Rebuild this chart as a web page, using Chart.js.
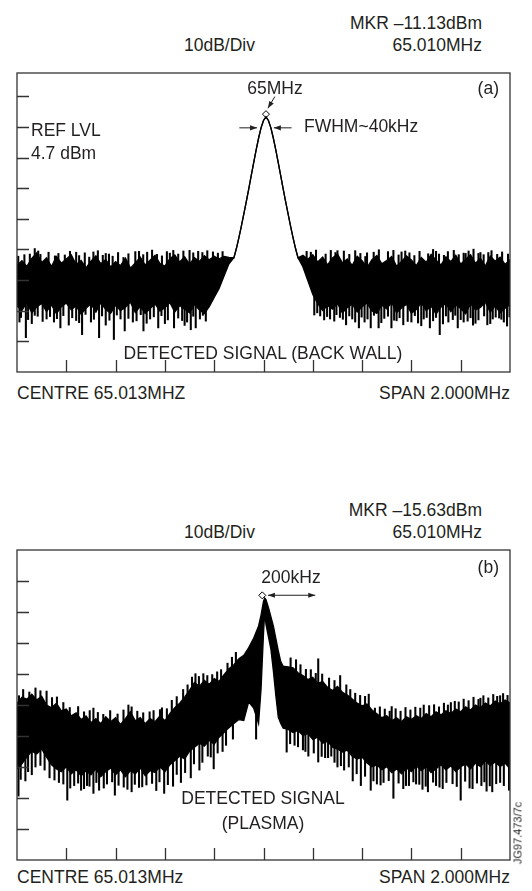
<!DOCTYPE html>
<html>
<head>
<meta charset="utf-8">
<title>Detected signal spectra</title>
<script src="https://cdn.jsdelivr.net/npm/chart.js@4.4.1/dist/chart.umd.min.js"></script>
<style>
  body { margin: 0; background: #fff; }
  #page { position: relative; width: 532px; height: 891px; overflow: hidden;
          font-family: "Liberation Sans", Arial, sans-serif; color: #231f20; }
  canvas { position: absolute; }
  .t { position: absolute; font-size: 17.5px; line-height: 17px; white-space: nowrap; }
  .c { transform: translateX(-50%); }
  .code { font-size: 11px; line-height: 11px; transform: translate(-50%, -50%) rotate(-90deg); }
</style>
</head>
<body>
<div id="page">
  <canvas id="chartA" width="503" height="309" style="left:12px;top:68px"></canvas>
  <canvas id="chartB" width="503" height="320" style="left:12px;top:545px"></canvas>

  <!-- (a) back wall -->
  <div class="t" style="right:50px;top:15px">MKR –11.13dBm</div>
  <div class="t" style="left:184px;top:37px">10dB/Div</div>
  <div class="t" style="right:50px;top:37px">65.010MHz</div>
  <div class="t c" style="left:275px;top:80px">65MHz</div>
  <div class="t" style="right:33px;top:80px">(a)</div>
  <div class="t" style="left:31px;top:122px">REF LVL</div>
  <div class="t" style="left:31px;top:145px">4.7 dBm</div>
  <div class="t" style="left:304px;top:118px">FWHM~40kHz</div>
  <div class="t c" style="left:263px;top:345px">DETECTED SIGNAL (BACK WALL)</div>
  <div class="t" style="left:17px;top:385px">CENTRE 65.013MHZ</div>
  <div class="t" style="right:22px;top:385px">SPAN 2.000MHz</div>

  <!-- (b) plasma -->
  <div class="t" style="right:50px;top:502px">MKR –15.63dBm</div>
  <div class="t" style="left:184px;top:524px">10dB/Div</div>
  <div class="t" style="right:50px;top:524px">65.010MHz</div>
  <div class="t" style="right:33px;top:559px">(b)</div>
  <div class="t c" style="left:291px;top:569px">200kHz</div>
  <div class="t c" style="left:263px;top:790px">DETECTED SIGNAL</div>
  <div class="t c" style="left:263px;top:815px">(PLASMA)</div>
  <div class="t" style="left:17px;top:869px">CENTRE 65.013MHz</div>
  <div class="t" style="right:22px;top:869px">SPAN 2.000MHz</div>
  <div class="t code" style="left:518px;top:833px">JG97.473/7c</div>
</div>

<script>
// frequency offset from the 65.013MHz centre, kHz (span 2MHz, 10 divisions)
var xDivKHz = [-800, -600, -400, -200, 0, 200, 400, 600, 800];

// ---- panel (a): back wall, dBm ----
var yDivA = [-85.3, -75.3, -65.3, -55.3, -45.3, -35.3, -25.3, -15.3, -5.3];

var freqA = [
  -1000, -980, -960, -940, -920, -900, -880, -860, -840, -820,
  -800, -780, -760, -740, -720, -700, -680, -660, -640, -620,
  -600, -580, -560, -540, -520, -500, -480, -460, -440, -420,
  -400, -380, -360, -340, -320, -300, -280, -260, -240, -220,
  -200, -180, -160, -140,
  -120, -110, -100, -90, -80, -70, -60, -50, -40, -30, -20, -10, 0,
  10, 20, 30, 40, 50, 60, 70, 80, 90, 100, 110, 120, 130, 140,
  160, 180, 200, 220, 240, 260, 280, 300, 320, 340,
  360, 380, 400, 420, 440, 460, 480, 500, 520, 540,
  560, 580, 600, 620, 640, 660, 680, 700, 720, 740,
  760, 780, 800, 820, 840, 860, 880, 900, 920, 940,
  960, 980, 1000
];
// upper edge of the trace
var hiA = [
  -60.5, -59.0, -60.8, -58.2, -56.4, -59.6, -58.0, -60.9, -57.6, -59.8,
  -58.4, -57.0, -60.2, -58.9, -61.3, -59.1, -57.4, -60.0, -58.6, -61.0,
  -59.3, -60.6, -58.1, -61.4, -59.7, -57.8, -60.4, -58.8, -57.2, -59.9,
  -60.7, -58.3, -57.1, -59.4, -57.7, -60.1, -58.0, -59.2, -57.3, -58.7,
  -57.5, -58.4, -57.6, -57.9,
  -58.0, -55.0, -51.5, -47.8, -43.8, -39.8, -35.6, -31.3, -27.0, -22.9, -19.0, -15.6, -13.2,
  -12.0, -13.2, -15.6, -19.0, -22.9, -27.0, -31.3, -35.6, -39.8, -43.8, -47.8, -51.5, -55.0, -58.0,
  -57.2, -58.5, -57.0, -59.4, -57.8, -60.3, -58.1, -56.8, -59.7, -58.4,
  -60.5, -57.5, -59.0, -61.2, -58.6, -57.3, -60.0, -58.9, -57.6, -60.8,
  -59.2, -57.4, -58.7, -60.6, -57.9, -59.5, -56.9, -58.8, -60.4, -57.7,
  -59.3, -57.2, -60.1, -58.5, -57.0, -59.8, -58.2, -60.7, -57.5, -59.1,
  -57.8, -60.2, -58.6
];
// lower edge of the trace
var loA = [
  -73.8, -75.2, -72.6, -76.0, -74.1, -72.9, -75.6, -73.4, -76.3, -74.0,
  -72.8, -75.0, -73.7, -76.4, -74.5, -73.0, -75.8, -72.7, -74.9, -76.1,
  -73.5, -75.3, -74.2, -72.5, -75.9, -73.9, -76.2, -74.6, -73.1, -75.4,
  -74.3, -72.6, -75.7, -73.6, -74.8, -76.0, -73.3, -75.1, -76.2, -74.0,
  -71.0, -68.0, -64.0, -60.0,
  -58.0, -55.0, -51.5, -47.8, -43.8, -39.8, -35.6, -31.3, -27.0, -22.9, -19.0, -15.6, -13.2,
  -12.0, -13.2, -15.6, -19.0, -22.9, -27.0, -31.3, -35.6, -39.8, -43.8, -47.8, -51.5, -55.0, -58.0,
  -61.0, -65.5, -70.0, -73.0, -75.2, -73.6, -74.8, -72.9, -76.0, -74.3,
  -73.1, -75.7, -74.0, -72.8, -75.4, -76.2, -73.5, -74.7, -72.6, -75.9,
  -74.4, -73.2, -76.1, -74.9, -72.7, -75.3, -73.8, -76.4, -74.1, -72.9,
  -75.6, -73.4, -74.6, -76.3, -73.0, -75.0, -74.2, -72.5, -75.8, -73.7,
  -76.0, -74.5, -73.3
];
// single samples dropping below the band
var downKHzA = [
  -990, -984, -964, -955, -940, -928, -916, -896, -880, -866,
  -850, -838, -824, -812, -790, -776, -760, -748, -736, -722,
  -700, -688, -667, -655, -640, -625, -607, -595, -580, -563,
  -548, -530, -515, -498, -487, -474, -460, -445, -427, -414,
  -400, -388, -363, -346, -330, -320, -310, -295, -285, -275,
  -258, -246, -234,
  206, 218, 230, 246, 258, 270, 287, 296, 310, 322,
  335, 348, 360, 372, 387, 398, 410, 422, 435, 448,
  467, 478, 490, 505, 519, 530, 540, 552, 567, 585,
  600, 614, 627, 640, 650, 662, 675, 688, 700, 715,
  728, 740, 750, 768, 778, 788, 800, 812, 828, 840,
  850, 860, 872, 895, 908, 920, 930, 942, 956, 965,
  975, 988, 998
];
var downTipA = [
  -79.0, -77.5, -84.1, -78.2, -79.5, -76.8, -77.1, -78.8, -78.0, -77.2,
  -79.0, -77.9, -80.9, -76.9, -80.0, -77.6, -78.5, -79.2, -83.1, -76.5,
  -79.0, -78.1, -84.1, -77.0, -80.0, -78.4, -84.7, -76.7, -78.0, -81.9,
  -77.8, -79.0, -78.6, -76.6, -81.9, -79.4, -78.0, -77.3, -80.9, -76.9,
  -79.5, -78.3, -80.9, -77.7, -78.5, -80.1, -79.0, -81.5, -77.1, -80.9,
  -78.0, -76.8, -78.7,
  -76.7, -76.0, -77.0, -78.3, -77.2, -78.0, -78.7, -76.6, -77.5, -78.1,
  -79.9, -77.0, -78.0, -79.0, -80.9, -77.4, -79.0, -78.0, -80.9, -76.8,
  -80.9, -79.2, -77.8, -77.1, -80.9, -78.4, -78.6, -77.6, -79.9, -78.8,
  -79.0, -76.9, -79.3, -80.2, -78.0, -77.5, -80.9, -78.6, -77.5, -83.1,
  -79.6, -77.0, -79.0, -78.2, -76.8, -80.9, -78.2, -79.0, -78.7, -77.6,
  -80.0, -79.4, -78.3, -77.0, -79.9, -79.5, -78.0, -77.4, -77.7, -78.1,
  -79.0, -80.3, -77.3
];
// single samples standing above the band
var upKHzA = [
  -995, -970, -948, -928, -914, -905, -872, -846, -832, -806,
  -785, -760, -748, -725, -707, -690, -672, -652, -640, -627,
  -612, -590, -568, -548, -520, -505, -488, -472, -452, -432,
  -412, -392, -380, -366, -346, -325, -300, -285, -265, -248,
  -228, -205, -185, -166,
  175, 192, 213, 252, 273, 292, 300, 326, 348, 372,
  393, 413, 420, 447, 468, 505, 527, 548, 560, 575,
  592, 612, 633, 668, 688, 700, 712, 732, 748, 772,
  792, 812, 820, 832, 852, 872, 880, 893, 912, 925,
  948, 968, 992
];
var upTipA = [
  -57.5, -57.0, -56.8, -55.0, -55.8, -56.9, -56.2, -57.4, -56.6, -57.1,
  -55.9, -56.2, -57.3, -56.4, -57.8, -56.1, -55.7, -57.2, -56.6, -56.8,
  -57.5, -56.3, -57.9, -56.7, -56.0, -55.9, -57.0, -56.2, -55.5, -56.9,
  -57.4, -56.0, -56.5, -55.6, -56.8, -55.8, -55.6, -56.4, -55.9, -56.3,
  -55.7, -56.1, -56.5, -56.0,
  -55.9, -56.2, -55.5, -56.8, -55.6, -56.3, -55.7, -55.8, -56.9, -55.7,
  -56.6, -57.6, -56.4, -56.2, -55.4, -56.0, -55.6, -57.1, -56.1, -55.8,
  -56.4, -57.3, -55.9, -56.7, -55.3, -55.9, -56.8, -57.2, -56.0, -55.6,
  -57.0, -56.5, -56.6, -55.8, -55.2, -56.6, -56.3, -57.0, -56.3, -55.7,
  -56.9, -56.1, -56.8
];
var markerA = { kHz: 10, dBm: -11.13 };

// ---- panel (b): plasma, dBm ----
var yDivB = [-91, -81, -71, -61, -51, -41, -31, -21, -11];

var freqB = [
  -1000, -980, -960, -940, -920, -900, -880, -860, -840, -820,
  -800, -780, -760, -740, -720, -700, -680, -660, -640, -620,
  -600, -580, -560, -540, -520, -500, -480, -460, -440, -420,
  -400, -380, -360, -340, -320, -300, -280, -260, -240, -220,
  -200, -180, -160, -140, -120, -100,
  -80, -60, -40, -20, -10, 0, 5, 10, 20, 30, 40, 50, 60, 70, 80,
  100, 120, 140, 160, 180, 200, 220, 240, 260, 280,
  300, 320, 340, 360, 380, 400, 420, 440, 460, 480,
  500, 520, 540, 560, 580, 600, 620, 640, 660, 680,
  700, 720, 740, 760, 780, 800, 820, 840, 860, 880,
  900, 920, 940, 960, 980, 1000
];
var hiB = [
  -50.4, -48.5, -49.1, -47.5, -49.4, -48.2, -51.0, -51.9, -50.4, -52.9,
  -52.3, -54.5, -53.5, -55.7, -54.5, -56.7, -55.4, -57.0, -54.8, -56.4,
  -55.1, -57.3, -55.4, -53.2, -56.1, -55.1, -57.0, -55.4, -56.4, -54.5,
  -56.1, -53.8, -51.9, -50.4, -48.5, -46.3, -43.7, -45.0, -43.1, -44.4,
  -42.5, -43.4, -41.2, -39.3, -38.0, -36.1,
  -35.0, -32.5, -29.5, -25.5, -22.0, -17.5, -16.5, -17.0, -19.5, -22.5, -25.5, -29.5, -33.5, -37.0, -38.5,
  -38.7, -39.0, -40.6, -41.5, -42.8, -42.1, -44.0, -43.4, -45.3, -46.3,
  -45.0, -46.9, -47.8, -49.1, -50.4, -51.3, -50.7, -52.6, -53.8, -55.1,
  -54.5, -56.1, -55.1, -56.4, -54.8, -55.7, -54.5, -55.4, -53.8, -54.8,
  -53.2, -54.2, -52.9, -53.8, -52.3, -53.2, -51.6, -52.6, -51.0, -51.9,
  -50.4, -51.3, -49.7, -50.7, -49.4, -50.4
];
var loB = [
  -71.6, -70.0, -67.8, -65.9, -66.8, -65.2, -67.8, -70.3, -71.6, -72.5,
  -70.9, -73.2, -71.9, -73.8, -72.2, -73.5, -71.6, -74.1, -72.5, -71.3,
  -73.5, -71.9, -74.1, -72.2, -73.2, -71.3, -73.8, -72.2, -72.8, -70.9,
  -72.5, -70.3, -69.0, -67.5, -68.4, -65.9, -64.6, -63.3, -64.3, -62.4,
  -63.7, -61.4, -59.9, -58.3, -57.0, -55.7,
  -56.0, -50.0, -52.0, -57.0, -46.0, -28.0, -21.0, -25.0, -29.0, -33.0, -40.0, -48.0, -55.0, -57.0, -58.5,
  -58.9, -59.9, -59.2, -60.8, -60.2, -62.1, -61.4, -63.3, -62.7, -64.6,
  -65.2, -66.2, -65.6, -67.5, -68.4, -67.8, -69.7, -70.9, -70.3, -71.9,
  -70.9, -72.8, -71.6, -73.2, -71.3, -72.5, -70.6, -72.2, -70.9, -72.8,
  -71.6, -70.3, -71.9, -70.6, -72.5, -70.9, -70.0, -71.6, -69.7, -70.9,
  -69.0, -70.6, -69.4, -70.9, -69.7, -71.6
];
var downKHzB = [
  -994, -985, -966, -955, -940, -925, -905, -888, -868, -848,
  -830, -812, -796, -784, -768, -752, -740, -728, -716, -706,
  -690, -678, -667, -648, -635, -614, -603, -588, -567, -552,
  -535, -522, -505, -492, -475, -452, -435, -422, -403, -388,
  -367, -352, -335, -318, -295, -282, -260, -248, -226, -214,
  -202, -186, -166, -152, -124, -30,
  94, 108, 126, 140, 160, 170, 182, 204, 222, 236,
  250, 262, 275, 288, 300, 314, 327, 346, 362, 378,
  395, 412, 435, 446, 460, 475, 487, 508, 527, 548,
  567, 578, 590, 608, 619, 632, 645, 658, 667, 688,
  700, 714, 727, 742, 767, 784, 800, 818, 836, 848,
  866, 884, 896, 905, 918, 928, 944, 960, 975, 996
];
var downTipB = [
  -80.4, -75.0, -75.5, -72.5, -73.5, -71.0, -70.5, -72.0, -74.5, -75.2,
  -76.0, -76.5, -81.7, -77.8, -77.0, -76.2, -78.5, -78.0, -77.0, -77.2,
  -79.5, -76.0, -78.5, -77.8, -76.5, -75.8, -80.1, -76.9, -77.5, -78.2,
  -79.0, -76.6, -77.6, -77.4, -76.8, -76.3, -78.6, -75.8, -79.5, -76.7,
  -77.2, -73.4, -76.0, -72.8, -74.5, -70.0, -72.0, -69.5, -67.5, -67.8,
  -71.6, -66.5, -66.0, -64.0, -62.0, -62.0,
  -66.2, -63.5, -64.0, -64.5, -65.5, -66.0, -67.5, -66.5, -69.4, -67.6,
  -68.0, -68.0, -67.5, -69.5, -71.0, -70.6, -72.0, -71.0, -75.5, -73.2,
  -77.0, -74.0, -78.5, -75.5, -76.5, -76.8, -76.0, -75.4, -81.1, -76.2,
  -78.0, -77.0, -77.0, -75.8, -76.5, -76.6, -78.2, -77.2, -79.0, -75.9,
  -77.0, -77.5, -78.0, -76.0, -76.4, -77.3, -81.7, -75.6, -77.8, -78.0,
  -76.2, -77.0, -75.8, -78.8, -77.1, -79.0, -76.4, -76.0, -77.0, -78.5
];
var upKHzB = [
  -992, -975, -950, -925, -905, -880, -858, -838, -812, -786,
  -752, -728, -705, -690, -672, -650, -622, -592, -568, -548,
  -535, -512, -488, -462, -446, -420, -412, -392, -372, -352,
  -326, -308, -290, -276, -262, -244, -228, -208, -188, -172,
  -146, -128, -112,
  110, 132, 150, 172, 192, 212, 222, 238, 266, 288,
  311, 336, 352, 372, 392, 412, 427, 452, 472, 492,
  512, 520, 536, 556, 576, 596, 616, 636, 650, 672,
  692, 712, 732, 748, 760, 776, 792, 812, 832, 852,
  872, 880, 892, 912, 932, 948, 960, 972, 990
];
var upTipB = [
  -48.0, -46.0, -46.8, -45.5, -46.4, -46.5, -48.6, -48.4, -50.2, -51.8,
  -51.5, -53.2, -52.8, -52.0, -53.4, -54.0, -52.8, -53.9, -52.6, -51.0,
  -51.6, -53.0, -53.5, -53.2, -52.8, -52.5, -51.9, -52.2, -49.5, -48.3,
  -46.0, -44.5, -42.0, -40.9, -41.8, -40.9, -41.5, -41.2, -40.3, -39.6,
  -37.5, -35.6, -34.0,
  -35.8, -36.4, -38.0, -39.5, -39.6, -40.8, -36.1, -41.0, -42.3, -43.1,
  -41.5, -44.5, -46.0, -47.2, -47.9, -48.2, -47.5, -52.0, -51.6, -52.3,
  -53.0, -51.5, -52.2, -53.0, -51.8, -52.6, -51.7, -52.0, -51.0, -51.2,
  -50.9, -51.6, -50.4, -51.0, -50.2, -49.8, -50.0, -49.1, -49.6, -48.5,
  -49.2, -48.8, -48.0, -48.7, -47.6, -48.2, -48.0, -47.3, -47.9
];
var markerB = { kHz: -5, dBm: -15.63 };

// middle of the band at the nearest sample, used as the root of a spike
function bandMiddle(freq, hi, lo, k) {
  var best = 0;
  for (var i = 1; i < freq.length; i++) {
    if (Math.abs(freq[i] - k) < Math.abs(freq[best] - k)) best = i;
  }
  return (hi[best] + lo[best]) / 2;
}

function drawHead(ctx, x0, y0, x1, y1) {
  var a = Math.atan2(y1 - y0, x1 - x0), L = 7, W = 2.6;
  ctx.beginPath();
  ctx.moveTo(x1, y1);
  ctx.lineTo(x1 - L * Math.cos(a) + W * Math.sin(a), y1 - L * Math.sin(a) - W * Math.cos(a));
  ctx.lineTo(x1 - L * Math.cos(a) - W * Math.sin(a), y1 - L * Math.sin(a) + W * Math.cos(a));
  ctx.closePath();
  ctx.fill();
}

// box, inward graticule ticks and the annotation arrows
var framePlugin = {
  id: 'frame',
  afterDatasetsDraw: function (chart, args, opts) {
    var ctx = chart.ctx, a = chart.chartArea, x = chart.scales.x, y = chart.scales.y;
    ctx.save();
    ctx.strokeStyle = '#333';
    ctx.lineWidth = 1.3;
    ctx.strokeRect(a.left, a.top, a.right - a.left, a.bottom - a.top);
    ctx.beginPath();
    opts.yDiv.forEach(function (v) {
      var py = Math.round(y.getPixelForValue(v)) + 0.5;
      ctx.moveTo(a.left, py); ctx.lineTo(a.left + 12, py);
    });
    xDivKHz.forEach(function (v) {
      var px = Math.round(x.getPixelForValue(v)) + 0.5;
      ctx.moveTo(px, a.bottom); ctx.lineTo(px, a.bottom - 12);
    });
    ctx.stroke();

    ctx.strokeStyle = '#231f20';
    ctx.fillStyle = '#231f20';
    ctx.lineWidth = 1;
    opts.arrows.forEach(function (ar) {
      var x0 = x.getPixelForValue(ar.from[0]), y0 = y.getPixelForValue(ar.from[1]);
      var x1 = x.getPixelForValue(ar.to[0]), y1 = y.getPixelForValue(ar.to[1]);
      ctx.beginPath(); ctx.moveTo(x0, y0); ctx.lineTo(x1, y1); ctx.stroke();
      drawHead(ctx, x0, y0, x1, y1);
      if (ar.both) drawHead(ctx, x1, y1, x0, y0);
    });
    ctx.restore();
  }
};

function spectrumChart(id, p) {
  var upper = p.freq.map(function (f, i) { return { x: f, y: p.hi[i] }; });
  var lower = p.freq.map(function (f, i) { return { x: f, y: p.lo[i] }; });
  var spikes = [];
  p.downKHz.forEach(function (k, i) {
    spikes.push({ x: k, y: [p.downTip[i], bandMiddle(p.freq, p.hi, p.lo, k)] });
  });
  p.upKHz.forEach(function (k, i) {
    spikes.push({ x: k, y: [bandMiddle(p.freq, p.hi, p.lo, k), p.upTip[i]] });
  });

  return new Chart(document.getElementById(id), {
    type: 'line',
    data: {
      datasets: [
        { data: upper, borderColor: '#000', borderWidth: 1.3, backgroundColor: '#000',
          fill: '+1', pointRadius: 0, tension: 0 },
        { data: lower, borderColor: '#000', borderWidth: 1.3, fill: false,
          pointRadius: 0, tension: 0 },
        { type: 'bar', data: spikes, backgroundColor: '#000', borderWidth: 0,
          barThickness: 1.4 },
        { data: [{ x: p.marker.kHz, y: p.marker.dBm }], showLine: false,
          pointStyle: 'rectRot', pointRadius: 3.5, pointBackgroundColor: '#fff',
          pointBorderColor: '#000', pointBorderWidth: 1, clip: false }
      ]
    },
    options: {
      responsive: false,
      animation: false,
      layout: { padding: 2 },
      plugins: {
        legend: { display: false },
        tooltip: { enabled: false },
        frame: { yDiv: p.yDiv, arrows: p.arrows }
      },
      scales: {
        x: { type: 'linear', min: -1000, max: 1000, offset: false, display: false },
        y: { type: 'linear', min: p.yMin, max: p.yMax, display: false }
      }
    },
    plugins: [framePlugin]
  });
}

var chartA = spectrumChart('chartA', {
  freq: freqA, hi: hiA, lo: loA,
  downKHz: downKHzA, downTip: downTipA, upKHz: upKHzA, upTip: upTipA,
  marker: markerA, yDiv: yDivA, yMin: -95.3, yMax: 2.3,
  arrows: [
    { from: [46, -5.4], to: [18, -9.2] },
    { from: [-98, -15.6], to: [-26, -15.6] },
    { from: [114, -15.6], to: [42, -15.6] }
  ]
});

var chartB = spectrumChart('chartB', {
  freq: freqB, hi: hiB, lo: loB,
  downKHz: downKHzB, downTip: downTipB, upKHz: upKHzB, upTip: upTipB,
  marker: markerB, yDiv: yDivB, yMin: -101, yMax: -1,
  arrows: [
    { from: [18, -15.6], to: [210, -15.6], both: true }
  ]
});
</script>
</body>
</html>
